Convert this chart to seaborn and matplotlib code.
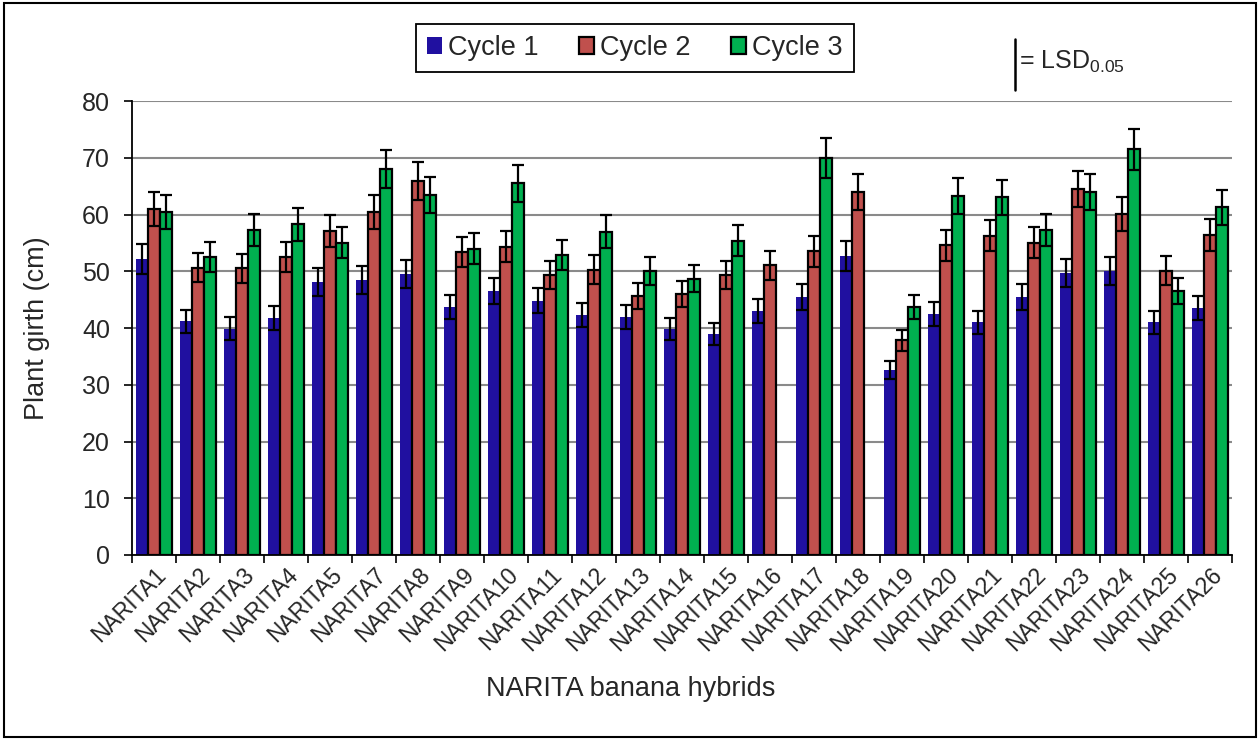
import numpy as np
import pandas as pd
import seaborn as sns
from matplotlib import pyplot as plt
from matplotlib.lines import Line2D
from matplotlib.patches import Rectangle

# datos
hybrids = ['NARITA1', 'NARITA2', 'NARITA3', 'NARITA4', 'NARITA5', 'NARITA7',
           'NARITA8', 'NARITA9', 'NARITA10', 'NARITA11', 'NARITA12', 'NARITA13',
           'NARITA14', 'NARITA15', 'NARITA16', 'NARITA17', 'NARITA18', 'NARITA19',
           'NARITA20', 'NARITA21', 'NARITA22', 'NARITA23', 'NARITA24', 'NARITA25',
           'NARITA26']
cycles = ['Cycle 1', 'Cycle 2', 'Cycle 3']
cycle1 = [52.2, 41.2, 39.9, 41.8, 48.1, 48.5, 49.5, 43.7, 46.5, 44.8, 42.3, 42.0,
          39.8, 38.9, 43.0, 45.5, 52.7, 32.6, 42.4, 41.0, 45.5, 49.7, 50.0, 41.0, 43.5]
cycle2 = [61.0, 50.6, 50.5, 52.5, 57.1, 60.4, 65.9, 53.4, 54.3, 49.3, 50.3, 45.6,
          46.0, 49.4, 51.1, 53.5, 64.0, 37.8, 54.6, 56.3, 55.0, 64.5, 60.1, 50.1, 56.4]
cycle3 = [60.5, 52.5, 57.3, 58.3, 55.0, 68.0, 63.4, 54.0, 65.5, 52.8, 57.0, 50.0,
          48.7, 55.4, np.nan, 70.0, np.nan, 43.7, 63.3, 63.0, 57.3, 64.0, 71.5, 46.5, 61.3]
colors = ['#2010A0', '#C0504D', '#00B050']
ERR_PCT = 0.05  # barras de error tipo porcentaje (5 %)

df = pd.DataFrame({
    'hybrid': hybrids * 3,
    'cycle': np.repeat(cycles, len(hybrids)),
    'girth': cycle1 + cycle2 + cycle3,
})

sns.set_style('white')
plt.rcParams['font.family'] = ['Liberation Sans', 'DejaVu Sans']
plt.rcParams['mathtext.fontset'] = 'custom'
plt.rcParams['mathtext.rm'] = 'Liberation Sans'

fig = plt.figure(figsize=(12.6, 7.4), dpi=100)
ax = fig.add_axes([0.105, 0.25, 0.873, 0.6135])

sns.barplot(data=df, x='hybrid', y='girth', hue='cycle', order=hybrids,
            hue_order=cycles, palette=colors, saturation=1, width=0.82,
            errorbar=None, legend=False, ax=ax, zorder=2)

bars = list(ax.containers)
for i, cont in enumerate(bars):
    for p in cont.patches:
        if i == 0:
            p.set_linewidth(0)
        else:
            p.set_edgecolor('black')
            p.set_linewidth(1.6)

# barras de error
for cont in bars:
    xs = [p.get_x() + p.get_width() / 2 for p in cont.patches if not np.isnan(p.get_height())]
    hs = np.array([p.get_height() for p in cont.patches if not np.isnan(p.get_height())])
    ax.errorbar(xs, hs, yerr=ERR_PCT * hs, fmt='none', ecolor='black',
                elinewidth=1.6, capsize=4.4, capthick=1.6, zorder=3)

ax.set_ylim(0, 80)
ax.set_xlim(-0.5, len(hybrids) - 0.5)
ax.set_yticks(range(0, 81, 10))
ax.yaxis.grid(True, color='#8a8a8a', linewidth=1.5)
ax.set_axisbelow(True)
for s in ['top', 'right']:
    ax.spines[s].set_visible(False)
for s in ['left', 'bottom']:
    ax.spines[s].set_color('black')
    ax.spines[s].set_linewidth(1.3)

ax.tick_params(axis='y', which='major', direction='out', length=6, width=1.2,
               color='black', labelsize=18, pad=10, left=True)
ax.set_xticks(range(len(hybrids)))
ax.set_xticklabels(hybrids, rotation=45, ha='right', rotation_mode='anchor')
ax.set_xticks(np.arange(-0.5, len(hybrids), 1), minor=True)
ax.tick_params(axis='x', which='major', length=0, labelsize=16.5, pad=6)
ax.tick_params(axis='x', which='minor', direction='out', length=6, width=1.2,
               color='black', bottom=True)

ax.set_xlabel('NARITA banana hybrids', fontsize=19.5)
ax.set_ylabel('Plant girth (cm)', fontsize=19.5)
ax.xaxis.set_label_coords(0.453, -0.296)
ax.xaxis.label.set_verticalalignment('center')
ax.yaxis.set_label_coords(-0.087, 0.5)
ax.yaxis.label.set_verticalalignment('center')

leg = ax.legend(bars, cycles, loc='center', bbox_to_anchor=(635 / 1260, 0.935),
                bbox_transform=fig.transFigure, ncol=3, fontsize=19.5,
                frameon=True, fancybox=False, framealpha=1, edgecolor='black',
                handlelength=0.55, handleheight=0.55, handletextpad=0.22,
                columnspacing=1.5, borderpad=0.4)
leg.get_frame().set_linewidth(1.3)

# indicador LSD
fig.add_artist(Line2D([1015 / 1260, 1015 / 1260], [1 - 39 / 740, 1 - 90 / 740],
                      color='black', linewidth=1.8))
fig.text(1019 / 1260, 1 - 62 / 740, r'= LSD$_{\mathregular{0.05}}$', fontsize=18,
         ha='left', va='center')

# marco exterior
fig.add_artist(Rectangle((0.003, 0.004), 0.994, 0.992, transform=fig.transFigure,
                         fill=False, edgecolor='black', linewidth=1.5))

fig.savefig('out.png', dpi=100)
